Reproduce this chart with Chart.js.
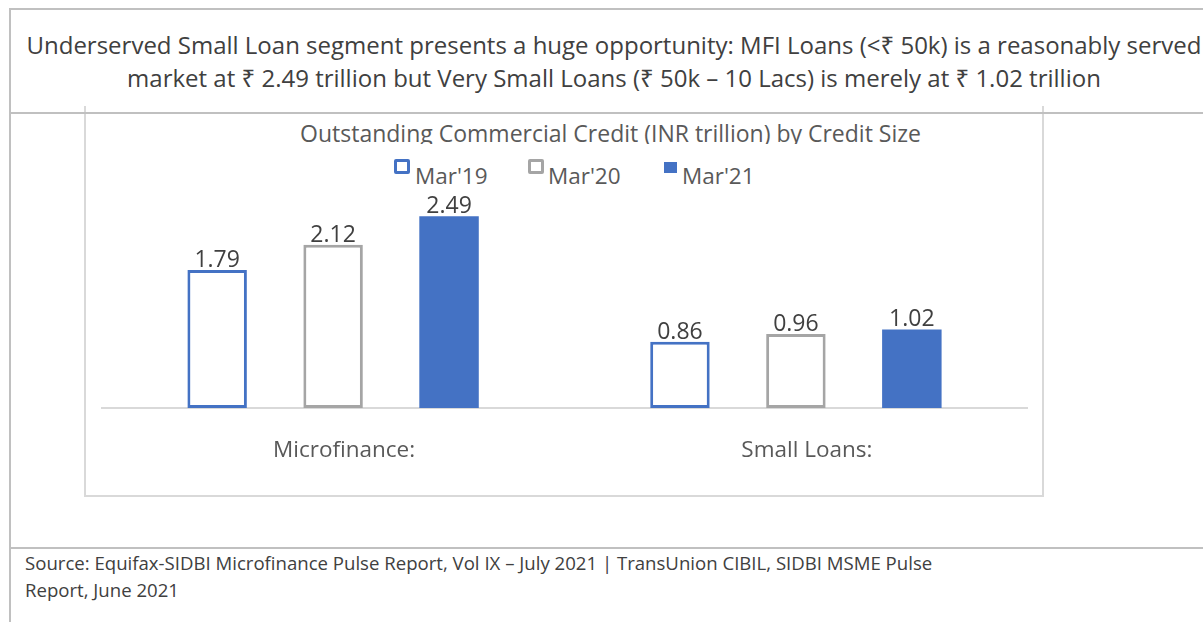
<!DOCTYPE html>
<html>
<head>
<meta charset="utf-8">
<script src="https://cdn.jsdelivr.net/npm/chart.js@4/dist/chart.umd.min.js"></script>
<style>
  html, body { margin: 0; padding: 0; background: #fff; }
  body { width: 1203px; height: 622px; position: relative; overflow: hidden; font-family: "Open Sans", "Noto Sans", sans-serif; }
  #frame { position: absolute; left: 9px; top: 8px; width: 1260px; height: 700px; border-left: 2px solid #c0c0c0; border-top: 2px solid #c0c0c0; }
  .hline { position: absolute; left: 9px; width: 1260px; height: 2px; background: #c0c0c0; }
  #headline { position: absolute; left: 0; width: 1228px; top: 28px; text-align: center; font-size: 24px; line-height: 33px; color: #404040; white-space: nowrap; }
  #chartbox { position: absolute; left: 84px; top: 106px; width: 956px; height: 389px; border: 2px solid #d9d9d9; border-top: none; background: #fff; }
  #titleclip { position: absolute; left: 86px; top: 115px; width: 1000px; height: 29px; overflow: hidden; }
  #title { position: absolute; left: 0; width: 1049px; top: 7px; text-align: center; font-size: 23px; line-height: 23px; color: #595959; white-space: nowrap; }
  .leg { position: absolute; font-size: 22.5px; line-height: 22.5px; color: #595959; white-space: nowrap; }
  .mark { position: absolute; box-sizing: border-box; }
  #wrap { position: absolute; left: 86px; top: 146px; width: 956px; height: 349px; }
  #source { position: absolute; left: 25px; top: 548.5px; font-size: 18.6px; line-height: 27.3px; color: #404040; white-space: nowrap; }
</style>
</head>
<body>
<div id="frame"></div>
<div id="headline">Underserved Small Loan segment presents a huge opportunity: MFI Loans (&lt;₹ 50k) is a reasonably served<br>market at ₹ 2.49 trillion but Very Small Loans (₹ 50k – 10 Lacs) is merely at ₹ 1.02 trillion</div>
<div id="chartbox"></div>
<div class="hline" style="top:112px"></div>
<div class="hline" style="top:547px"></div>
<div id="titleclip"><div id="title">Outstanding Commercial Credit (INR trillion) by Credit Size</div></div>
<div id="legend"></div>
<div id="wrap"><canvas id="chart" width="956" height="349"></canvas></div>
<div id="source">Source: Equifax-SIDBI Microfinance Pulse Report, Vol IX – July 2021 | TransUnion CIBIL, SIDBI MSME Pulse<br>Report, June 2021</div>

<script>
// dati del grafico
const categories = ['Microfinance:', 'Small Loans:'];
const seriesNames = ["Mar'19", "Mar'20", "Mar'21"];
const mar19 = [1.79, 0.86];
const mar20 = [2.12, 0.96];
const mar21 = [2.49, 1.02];

const blue = '#4472C4';
const grey = '#A5A5A5';

// legenda fatta a mano (i quadratini stanno un po' più in alto del testo)
const legendSpots = [
    { mx: 394, my: 159, w: 16, h: 15, style: 'border:3px solid ' + blue + ';border-radius:2px;background:#fff', tx: 415 },
    { mx: 528, my: 159, w: 16, h: 15, style: 'border:3px solid ' + grey + ';border-radius:2px;background:#fff', tx: 548 },
    { mx: 664, my: 162, w: 13, h: 11, style: 'background:' + blue, tx: 682 }
];
const legendDiv = document.getElementById('legend');
seriesNames.forEach((name, i) => {
    const s = legendSpots[i];
    legendDiv.innerHTML += `
        <div class="mark" style="left:${s.mx}px;top:${s.my}px;width:${s.w}px;height:${s.h}px;${s.style}"></div>
        <div class="leg" style="left:${s.tx}px;top:165px">${name}</div>
    `;
});

// etichette dei valori sopra le barre
const valueLabels = {
    id: 'valueLabels',
    afterDatasetsDraw(chart) {
        const ctx = chart.ctx;
        ctx.save();
        ctx.font = '23px "Open Sans"';
        ctx.fillStyle = '#404040';
        ctx.textAlign = 'center';
        ctx.textBaseline = 'alphabetic';
        chart.data.datasets.forEach((ds, i) => {
            chart.getDatasetMeta(i).data.forEach((bar, j) => {
                ctx.fillText(ds.data[j].toFixed(2), bar.x, bar.y - 3);
            });
        });
        ctx.restore();
    }
};

new Chart(document.getElementById('chart'), {
    type: 'bar',
    data: {
        labels: categories,
        datasets: [
            { label: seriesNames[0], data: mar19, backgroundColor: '#fff', borderColor: blue, borderWidth: 3, borderSkipped: false },
            { label: seriesNames[1], data: mar20, backgroundColor: '#fff', borderColor: grey, borderWidth: 3, borderSkipped: false },
            { label: seriesNames[2], data: mar21, backgroundColor: blue, borderWidth: 0 }
        ]
    },
    options: {
        responsive: false,
        animation: false,
        events: [],
        categoryPercentage: 0.7516,
        barPercentage: 0.513,
        layout: { padding: { left: 15.7, right: 14.7, top: 30.9, bottom: 2 } },
        plugins: { legend: { display: false }, title: { display: false }, tooltip: { enabled: false } },
        scales: {
            x: {
                grid: { display: false, drawTicks: false },
                border: { display: true, color: '#d9d9d9', width: 2 },
                ticks: { color: '#595959', font: { family: 'Open Sans', size: 22.5 }, padding: 29, labelOffset: 11 }
            },
            y: { display: false, min: 0, max: 3 }
        }
    },
    plugins: [valueLabels]
});
</script>
</body>
</html>
